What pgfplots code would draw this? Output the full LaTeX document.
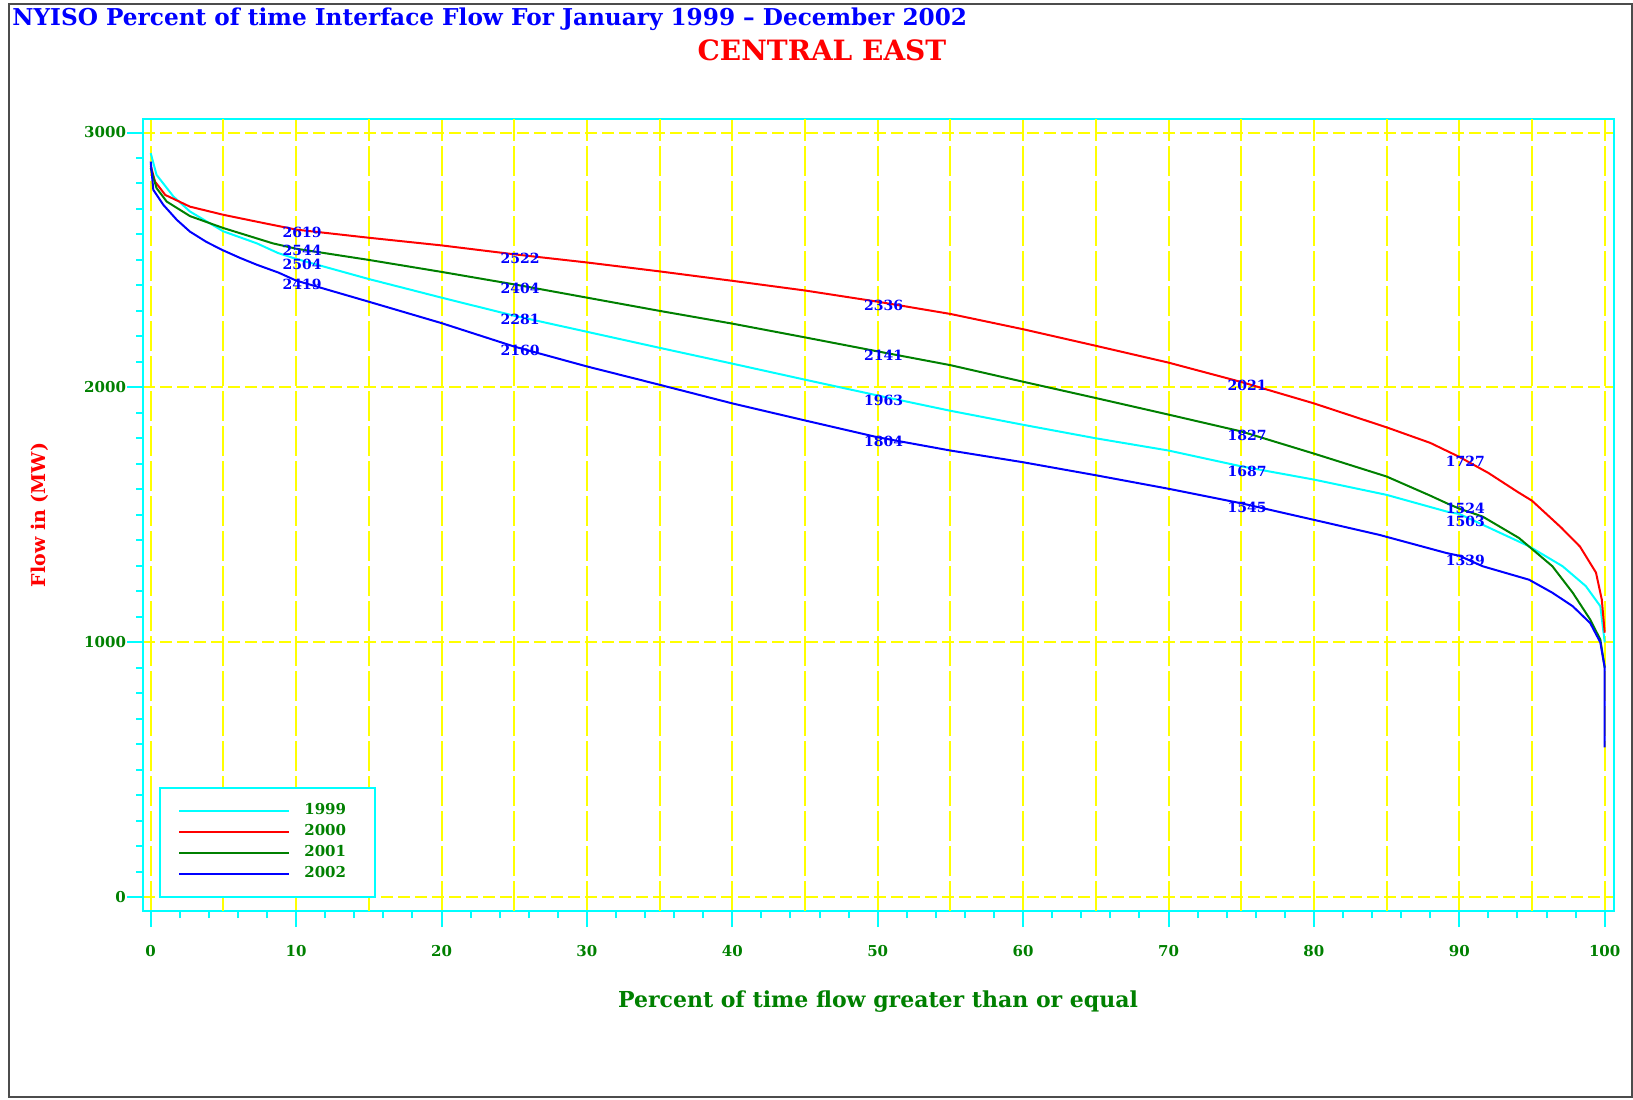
\documentclass[border=0pt]{standalone}
\usepackage{pgfplots}
\pgfplotsset{compat=1.18}
\usepackage{fontspec}
\setmainfont{DejaVu Serif}
\definecolor{cyn}{RGB}{0,255,255}
\definecolor{grn}{RGB}{0,128,0}
\definecolor{blu}{RGB}{0,0,255}
\definecolor{rd}{RGB}{255,0,0}
\definecolor{yel}{RGB}{255,255,0}
\newcommand{\tfont}{\bfseries\fontsize{7.5}{8}\selectfont}
\newcommand{\lfont}{\bfseries\fontsize{7}{7.5}\selectfont}
\begin{document}
\begin{tikzpicture}
\useasboundingbox (0,0) rectangle (816.5pt,549.5pt);
\draw[black!70, line width=1pt] (4.5pt,1pt) rectangle (815.75pt,547.5pt);
\begin{axis}[
  at={(71.5pt,94pt)}, anchor=south west,
  width=735.5pt, height=396pt, scale only axis,
  xmin=-0.53, xmax=100.64, ymin=-55, ymax=3053,
  axis line style={cyn, line width=1.2pt},
  tick pos=left, tick align=outside,
  xtick={0,10,...,100}, minor x tick num=4,
  ytick={0,1000,2000,3000}, minor y tick num=9,
  major tick length=8pt, minor tick length=3.5pt,
  tick style={cyn, line width=1pt},
  minor tick style={cyn, line width=1pt},
  xmajorgrids, ymajorgrids,
  x grid style={yel, line width=1pt, dash pattern=on 15pt off 2.5pt},
  y grid style={yel, line width=1pt, dash pattern=on 6pt off 2.5pt},
  extra x ticks={5,15,...,95},
  extra x tick labels={},
  extra x tick style={major tick length=0pt, grid=major},
  /pgf/number format/assume math mode=true,
  /pgf/number format/set thousands separator={},
  ticklabel style={font=\tfont, text=grn},
  xticklabel style={yshift=-5.7pt},
  yticklabel style={xshift=3pt},
  legend style={at={(0.0111,0.0167)}, anchor=south west, draw=cyn, line width=1pt,
    fill=white, font=\tfont, text=grn, inner xsep=9pt, inner ysep=6pt, row sep=-0.6pt},
  legend cell align=left,
  legend image code/.code={\draw[#1, line width=1pt] (0pt,0pt) -- (55pt,0pt); \path (60pt,0pt);},
]
\addplot[cyn, line width=1pt] coordinates {
(0,2919) (0.4,2834) (1.56,2749) (2.7,2690) (5,2612) (7.3,2565) (8.76,2527) (10,2504)
(15,2425) (20,2352) (25,2281) (30,2218) (35,2155) (40,2093) (45,2030) (50,1968)
(55,1908) (60,1853) (65,1800) (70,1752) (75,1690) (80,1638) (85,1578) (89.1,1513)
(90,1503) (91.6,1461) (94.8,1376) (97.1,1298) (98.7,1220) (99.7,1141) (100,999)};
\addlegendentry{1999\rule{3.5pt}{0pt}}
\addplot[rd, line width=1pt] coordinates {
(0,2870) (0.3,2807) (1,2755) (2.7,2709) (5,2677) (7.3,2650) (10,2619) (15,2587)
(20,2557) (25,2522) (30,2490) (35,2455) (40,2418) (45,2380) (50,2336) (55,2288)
(60,2228) (65,2163) (70,2097) (75,2021) (80,1937) (85,1843) (88,1782) (90,1727)
(92,1664) (94,1590) (95,1555) (97,1450) (98.3,1375) (99.4,1273) (99.8,1167) (100,1037)};
\addlegendentry{2000\rule{3.5pt}{0pt}}
\addplot[grn, line width=1pt] coordinates {
(0,2861) (0.4,2782) (1.1,2729) (2.7,2672) (5,2625) (8.4,2565) (10,2544) (15,2500)
(20,2453) (25,2404) (30,2352) (35,2300) (40,2250) (45,2196) (50,2141) (55,2087)
(60,2022) (65,1958) (70,1893) (75,1827) (80,1740) (85,1650) (88,1575) (89.1,1546)
(90,1524) (91.6,1493) (94.1,1409) (96.4,1298) (97.8,1194) (99,1089) (99.7,1010) (100,900)};
\addlegendentry{2001\rule{3.5pt}{0pt}}
\addplot[blu, line width=1pt] coordinates {
(0,2886) (0.18,2775) (0.87,2716) (1.8,2657) (2.7,2611) (3.85,2570) (5,2537) (6.14,2508)
(7.3,2481) (8.8,2450) (10,2419) (15,2336) (20,2252) (25,2160) (30,2082) (35,2010)
(40,1937) (45,1870) (50,1804) (55,1752) (60,1706) (65,1655) (70,1602) (75,1545)
(80,1480) (84.5,1421) (89.1,1350) (90,1339) (91.6,1298) (94.8,1245) (96.4,1194)
(97.8,1141) (99,1075) (99.7,999) (100,900) (100,587)};
\addlegendentry{2002\rule{3.5pt}{0pt}}
\addplot[draw=none, mark=none, forget plot, nodes near coords, point meta=explicit symbolic,
  nodes near coords style={anchor=center, xshift=3pt, font=\lfont, text=blu, inner sep=0.5pt}]
coordinates {
(10,2608) [2619] (10,2537) [2544] (10,2482) [2504] (10,2404) [2419]
(25,2507) [2522] (25,2389) [2404] (25,2266) [2281] (25,2145) [2160]
(50,2321) [2336] (50,2126) [2141] (50,1948) [1963] (50,1789) [1804]
(75,2006) [2021] (75,1812) [1827] (75,1672) [1687] (75,1530) [1545]
(90,1710) [1727] (90,1525) [1524] (90,1475) [1503] (90,1322) [1339]};
\end{axis}
\node[anchor=west, text=blu, font=\bfseries\fontsize{11.6}{13}\selectfont, inner sep=0pt] at (6pt,540pt) {NYISO Percent of time Interface Flow For January 1999 -- December 2002};
\node[text=rd, font=\bfseries\fontsize{14}{16}\selectfont] at (411pt,524.5pt) {CENTRAL EAST};
\node[text=rd, rotate=90, font=\bfseries\fontsize{9.5}{11}\selectfont] at (20pt,292pt) {Flow in (MW)};
\node[text=grn, font=\bfseries\fontsize{11}{13}\selectfont] at (439pt,48.5pt) {Percent of time flow greater than or equal};
\end{tikzpicture}
\end{document}
